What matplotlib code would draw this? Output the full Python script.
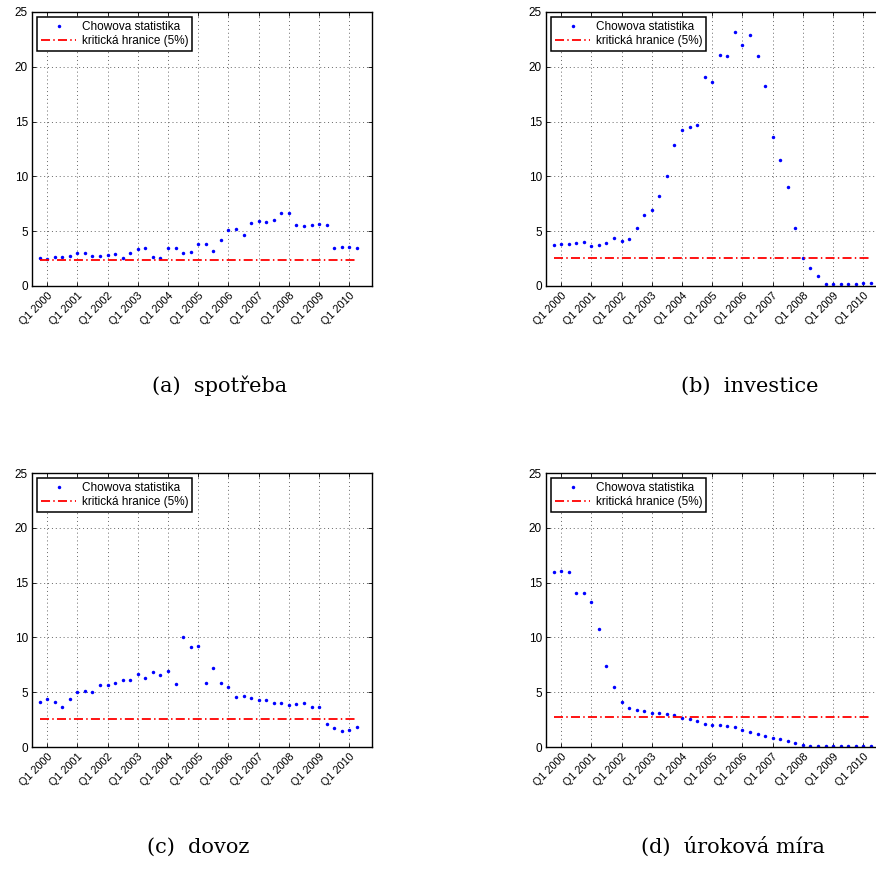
import numpy as np
import matplotlib.pyplot as plt

plt.rcParams['font.family'] = ['Liberation Sans', 'DejaVu Sans']

# ctvrtleti, 0 = Q1 2000
x = np.arange(-1, 42)
tick_pos = np.arange(0, 41, 4)
tick_lab = ['Q1 %d' % r for r in range(2000, 2011)]

spotreba = [2.52, 2.49, 2.64, 2.64, 2.70, 3.01, 3.04, 2.70, 2.76, 2.86,
            2.92, 2.52, 2.98, 3.40, 3.43, 2.64, 2.55, 3.49, 3.49, 2.98,
            3.10, 3.86, 3.86, 3.22, 4.19, 5.10, 5.22, 4.65, 5.71, 5.89,
            5.80, 5.98, 6.62, 6.68, 5.53, 5.47, 5.59, 5.65, 5.59, 3.49,
            3.52, 3.55, 3.49]
investice = [3.77, 3.80, 3.80, 3.89, 3.98, 3.68, 3.71, 3.89, 4.37, 4.07,
             4.28, 5.32, 6.47, 6.96, 8.23, 10.05, 12.88, 14.25, 14.52, 14.67,
             19.11, 18.59, 21.11, 20.96, 23.15, 21.96, 22.93, 21.02, 18.23, 13.64,
             11.51, 9.05, 5.29, 2.52, 1.64, 0.94, 0.18, 0.18, 0.15, 0.15,
             0.18, 0.24, 0.27]
dovoz = [4.08, 4.38, 4.11, 3.68, 4.41, 4.99, 5.11, 4.99, 5.63, 5.63,
         5.84, 6.11, 6.11, 6.69, 6.27, 6.84, 6.60, 6.93, 5.72, 10.07,
         9.12, 9.18, 5.84, 7.21, 5.87, 5.47, 4.53, 4.62, 4.47, 4.26,
         4.26, 4.04, 4.01, 3.80, 3.89, 3.98, 3.65, 3.62, 2.13, 1.70,
         1.43, 1.58, 1.79]
urok = [16.0, 16.03, 15.97, 14.05, 14.05, 13.20, 10.80, 7.42, 5.47, 4.11,
        3.59, 3.41, 3.32, 3.13, 3.07, 3.01, 2.89, 2.65, 2.55, 2.34,
        2.10, 2.01, 1.98, 1.89, 1.79, 1.52, 1.37, 1.22, 1.03, 0.85,
        0.73, 0.52, 0.36, 0.15, 0.09, 0.06, 0.06, 0.09, 0.06, 0.06,
        0.06, 0.06, 0.06]

kriticke = [2.34, 2.52, 2.52, 2.71]
popisky = ['(a)  spotřeba', '(b)  investice', '(c)  dovoz', '(d)  úroková míra']
rady = [spotreba, investice, dovoz, urok]

W, H = 876, 877
fig = plt.figure(figsize=(W / 100, H / 100), dpi=100)

# pozice os v pixelech (levy okraj, horni okraj)
pozice = [(32, 12), (546, 12), (32, 473), (546, 473)]
stredy = [(220, 386), (750, 386), (198, 847), (733, 847)]
sirka, vyska = 340, 274

for k in range(4):
    l, t = pozice[k]
    ax = fig.add_axes([l / W, 1 - (t + vyska) / H, sirka / W, vyska / H])
    ax.plot(x, rady[k], 'o', color='#0000ff', ms=2.5, mew=0,
            label='Chowova statistika')
    ax.plot([x[0], x[-1]], [kriticke[k], kriticke[k]], color='#ff0000',
            lw=1.3, linestyle=(0, (5, 1.8, 0.8, 1.8)),
            label='kritická hranice (5%)')
    ax.set_xlim(-2, 43)
    ax.set_ylim(0, 25)
    ax.set_yticks([0, 5, 10, 15, 20, 25])
    ax.set_xticks(tick_pos)
    ax.set_xticklabels(tick_lab, rotation=45, ha='right',
                       rotation_mode='anchor', fontsize=7.8)
    ax.tick_params(axis='y', labelsize=8.5)
    ax.tick_params(direction='in', top=True, right=True, length=3,
                   width=0.6, pad=3)
    ax.grid(True, linestyle=(0, (1, 3)), color='#666666', lw=0.7)
    for s in ax.spines.values():
        s.set_linewidth(1.0)
    leg = ax.legend(loc='upper left', fontsize=8.5, fancybox=False,
                    edgecolor='black', framealpha=1, borderaxespad=0.45,
                    handlelength=3.0, handletextpad=0.45, borderpad=0.3,
                    labelspacing=0.2)
    leg.get_frame().set_linewidth(1.1)
    cx, cy = stredy[k]
    fig.text(cx / W, 1 - cy / H, popisky[k], ha='center', va='center',
             fontsize=15, family=['DejaVu Serif'])

fig.savefig('out.png', dpi=100)
